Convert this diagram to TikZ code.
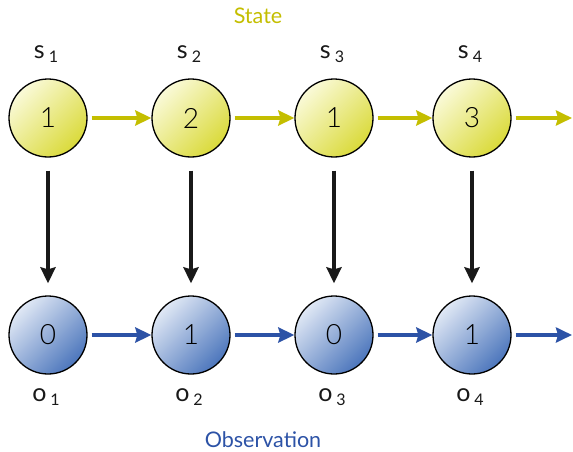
\documentclass[tikz,border=0pt]{standalone}
\usepackage{fontspec}
\setmainfont{Lato}[UprightFont=* Light, BoldFont=*]
\newfontfamily\titlefont{Lato}
\usetikzlibrary{arrows.meta}

\definecolor{stateline}{HTML}{C4BE00}
\definecolor{statelight}{HTML}{FAFAD8}
\definecolor{statedark}{HTML}{DADA3A}
\definecolor{obsline}{HTML}{2C52A6}
\definecolor{obslight}{HTML}{E0E8F5}
\definecolor{obsdark}{HTML}{4C76BC}

\newcommand{\subsz}{\fontsize{16}{16}\selectfont}
\newcommand{\varlbl}[2]{{\fontsize{25}{25}\selectfont #1}\kern4pt\raisebox{-4pt}{\subsz #2}}

\tikzset{
  statenode/.style={circle, draw=black, line width=1.3pt, minimum size=78pt, inner sep=0pt,
    top color=statelight, bottom color=statedark, shading angle=45,
    font=\fontsize{28}{28}\selectfont},
  obsnode/.style={circle, draw=black, line width=1.3pt, minimum size=78pt, inner sep=0pt,
    top color=obslight, bottom color=obsdark, shading angle=45,
    font=\fontsize{28}{28}\selectfont},
  statearrow/.style={draw=stateline, fill=stateline, line width=3.6pt, shorten <=4pt,
    -{Stealth[length=16pt,width=15pt,inset=2pt]}},
  obsarrow/.style={draw=obsline, fill=obsline, line width=3.6pt, shorten <=4pt,
    -{Stealth[length=16pt,width=15pt,inset=2pt]}},
  emitarrow/.style={draw=black!90, line width=3.8pt, shorten <=13pt, shorten >=12pt,
    -{Stealth[length=16pt,width=15pt,inset=2pt]}},
  varlabel/.style={inner sep=0pt, anchor=base, text=black!90, font=\titlefont},
  title/.style={font=\titlefont\fontsize{21.5}{22}\selectfont, inner sep=0pt}
}

\begin{document}
\begin{tikzpicture}[x=1pt, y=-1pt]
  \useasboundingbox (0,0) rectangle (573,452);

  % hidden states
  \node[statenode] (s1) at (48,118) {1};
  \node[statenode] (s2) at (191,118) {2};
  \node[statenode] (s3) at (334,118) {1};
  \node[statenode] (s4) at (472,118) {3};
  \coordinate (send) at (572,118);

  % observations
  \node[obsnode] (o1) at (48,335) {0};
  \node[obsnode] (o2) at (191,335) {1};
  \node[obsnode] (o3) at (334,335) {0};
  \node[obsnode] (o4) at (472,335) {1};
  \coordinate (oend) at (572,335);

  % labels
  \node[varlabel] (ls1) at (46,59) {\varlbl{s}{1}};
  \node[varlabel] (ls2) at (189,59) {\varlbl{s}{2}};
  \node[varlabel] (ls3) at (332,59) {\varlbl{s}{3}};
  \node[varlabel] (ls4) at (470,59) {\varlbl{s}{4}};
  \node[varlabel] (lo1) at (46,401) {\varlbl{o}{1}};
  \node[varlabel] (lo2) at (189,401) {\varlbl{o}{2}};
  \node[varlabel] (lo3) at (332,401) {\varlbl{o}{3}};
  \node[varlabel] (lo4) at (470,401) {\varlbl{o}{4}};

  \node[title, text=stateline] (tstate) at (258,16) {State};
  \node[title, text=obsline] (tobs) at (263,440) {Observation};

  % transitions
  \draw[statearrow] (s1) -- (s2);
  \draw[statearrow] (s2) -- (s3);
  \draw[statearrow] (s3) -- (s4);
  \draw[statearrow] (s4) -- (send);

  \draw[obsarrow] (o1) -- (o2);
  \draw[obsarrow] (o2) -- (o3);
  \draw[obsarrow] (o3) -- (o4);
  \draw[obsarrow] (o4) -- (oend);

  % emissions
  \draw[emitarrow] (s1) -- (o1);
  \draw[emitarrow] (s2) -- (o2);
  \draw[emitarrow] (s3) -- (o3);
  \draw[emitarrow] (s4) -- (o4);
\end{tikzpicture}
\end{document}
